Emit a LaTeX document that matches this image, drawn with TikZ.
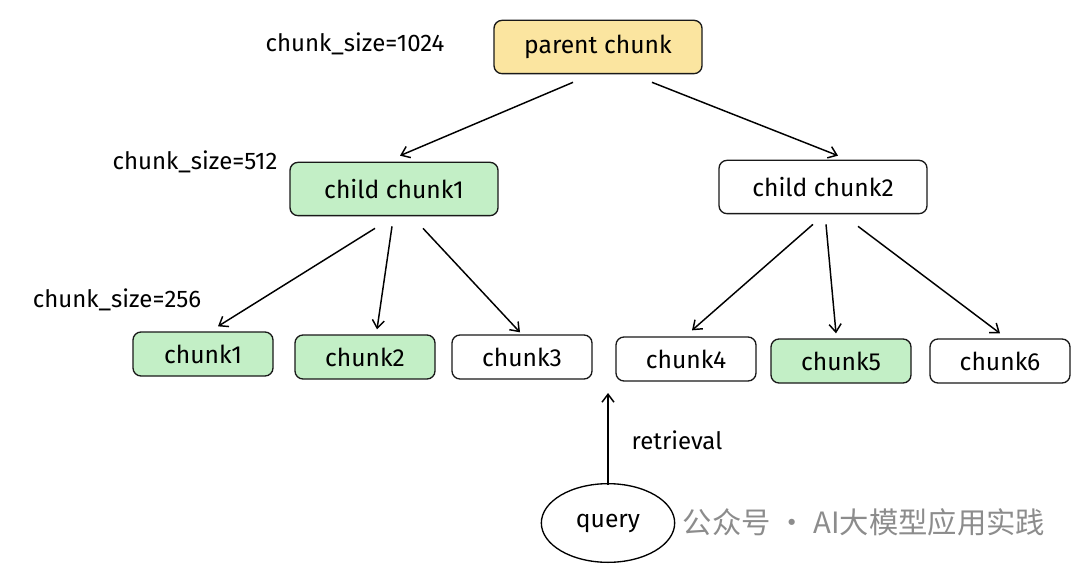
\documentclass[tikz,border=0pt]{standalone}
\usepackage{fontspec}
\setmainfont{Fira Sans}
\newfontfamily\cjk{Noto Sans CJK SC}
\usetikzlibrary{shapes.geometric,arrows.meta}
\definecolor{yel}{HTML}{FBE5A0}
\definecolor{grn}{HTML}{C3EFC6}
\begin{document}
\begin{tikzpicture}[x=0.75pt,y=-0.75pt,
  box/.style={draw=black!90,line width=1pt,rounded corners=6pt,font=\fontsize{18.5}{20}\selectfont,inner sep=0pt},
  big/.style={box,minimum width=156pt,minimum height=40pt},
  small/.style={box,minimum width=105pt,minimum height=33pt},
  lab/.style={font=\fontsize{18}{20}\selectfont},
  arr/.style={-{Straight Barb[length=6pt,width=9pt]},line width=1.1pt}]
\useasboundingbox (0,0) rectangle (1080,566);
\node[big,fill=yel] (p) at (598,47) {parent chunk};
\node[big,fill=grn] (c1) at (394,189) {child chunk1};
\node[big,fill=white] (c2) at (823,187) {child chunk2};
\node[small,fill=grn] (k1) at (203,354) {chunk1};
\node[small,fill=grn] (k2) at (365,357) {chunk2};
\node[small,fill=white] (k3) at (522,357) {chunk3};
\node[small,fill=white] (k4) at (686,359) {chunk4};
\node[small,fill=grn] (k5) at (841,361) {chunk5};
\node[small,fill=white] (k6) at (1000,361) {chunk6};
\node[draw,ellipse,line width=1pt,minimum width=100pt,minimum height=59pt,font=\fontsize{18.5}{20}\selectfont] (q) at (608,523) {query};
\coordinate (t) at (608,393);
\node[lab] (l1) at (355,44) {chunk\_size=1024};
\node[lab] (l2) at (195,162) {chunk\_size=512};
\node[lab] (l3) at (117,300) {chunk\_size=256};
\node[lab,anchor=west] (r) at (627,440) {retrieval};
\node[font=\cjk\fontsize{22}{24}\selectfont,text=black!45] (w) at (864,522) {公众号 · AI大模型应用实践};
\draw[arr] ([xshift=-18.75pt,yshift=-6pt]p.south) -- ([xshift=4.5pt,yshift=4.5pt]c1.north);
\draw[arr] ([xshift=40.5pt,yshift=-6pt]p.south) -- ([xshift=11.25pt,yshift=3pt]c2.north);
\draw[arr] ([xshift=-14.25pt,yshift=-9pt]c1.south) -- ([xshift=11.25pt,yshift=3.75pt]k1.north);
\draw[arr] ([xshift=-1.5pt,yshift=-7.5pt]c1.south) -- ([xshift=9pt,yshift=3.75pt]k2.north);
\draw[arr] ([xshift=21.75pt,yshift=-9pt]c1.south) -- ([xshift=-1.5pt,yshift=1.5pt]k3.north);
\draw[arr] ([xshift=-7.5pt,yshift=-7.5pt]c2.south) -- ([xshift=4.5pt,yshift=4.5pt]k4.north);
\draw[arr] ([xshift=2.25pt,yshift=-7.5pt]c2.south) -- ([xshift=-3.75pt,yshift=3.75pt]k5.north);
\draw[arr] ([xshift=26.25pt,yshift=-9pt]c2.south) -- ([yshift=3.75pt]k6.north);
\draw[arr] ([yshift=-1.5pt]q.north) -- (t);
\end{tikzpicture}
\end{document}
